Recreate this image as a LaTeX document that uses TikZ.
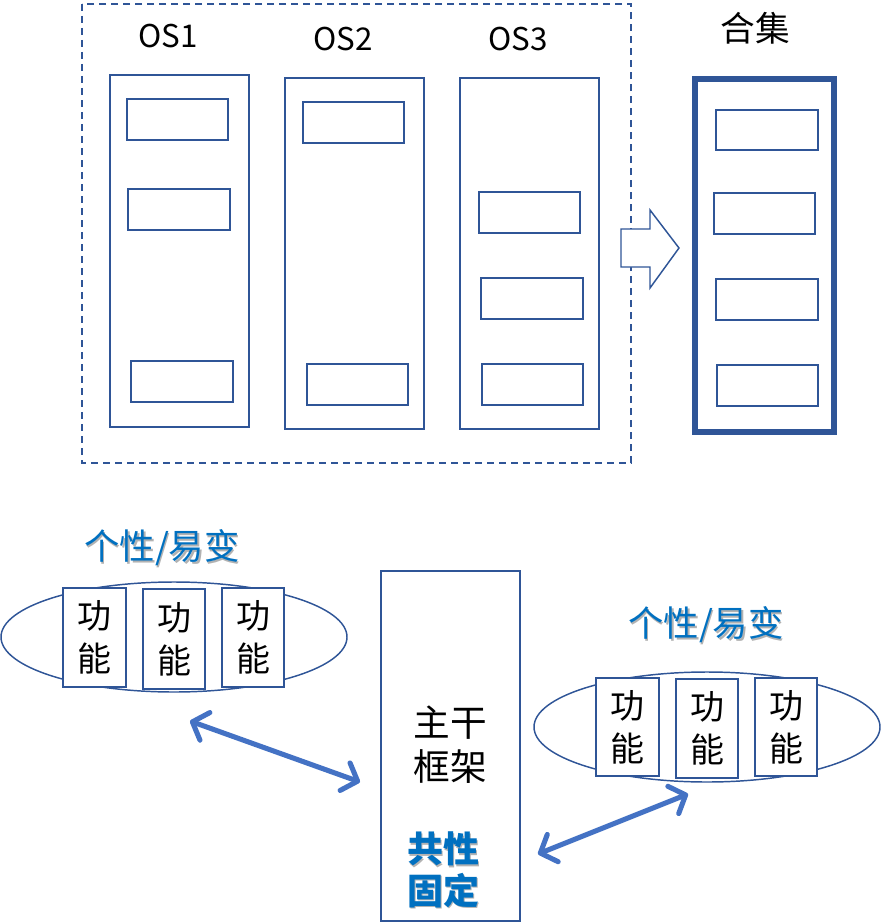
\documentclass[tikz,border=0pt]{standalone}
\usepackage{fontspec}
\setmainfont{Noto Sans CJK SC}
\usetikzlibrary{arrows.meta}
\definecolor{dkblue}{HTML}{2F5597}
\definecolor{arrblue}{HTML}{4472C4}
\definecolor{txtblue}{HTML}{0070C0}
\begin{document}
\begin{tikzpicture}[x=0.75pt,y=-0.75pt,
  box/.style={draw=dkblue,line width=1.1pt},
  lbl/.style={font=\fontsize{23.5}{27}\selectfont,inner sep=0pt},
  fn/.style={draw=dkblue,line width=1.1pt,fill=white,align=center,inner sep=0pt,font=\fontsize{25.5}{32}\selectfont},
  blu/.style={text=txtblue,inner sep=0pt,align=center},
  shd/.style={text=black!30,inner sep=0pt,align=center},
  dbl/.style={draw=arrblue,line width=3.8pt,line cap=round,
    {Straight Barb[length=10pt,width=22pt,line cap=round,line join=round]}-{Straight Barb[length=10pt,width=22pt,line cap=round,line join=round]}}]
\useasboundingbox (0,0) rectangle (881,924);
% top part
\draw[dkblue,line width=1.1pt,dash pattern=on 5.5pt off 3.5pt] (82,4) rectangle (631,463);
\node[lbl] (os1) at (168,36) {OS1};
\node[lbl] (os2) at (343,39) {OS2};
\node[lbl] (os3) at (518,39) {OS3};
\draw[box] (110,75) rectangle (249,427);
\draw[box] (127,99) rectangle (228,140);
\draw[box] (128,189) rectangle (230,230);
\draw[box] (131,361) rectangle (233,402);
\draw[box] (285,78) rectangle (424,429);
\draw[box] (303,102) rectangle (404,143);
\draw[box] (307,364) rectangle (408,405);
\draw[box] (460,78) rectangle (599,429);
\draw[box] (479,192) rectangle (580,233);
\draw[box] (481,278) rectangle (583,319);
\draw[box] (482,364) rectangle (583,405);
\draw[box,line join=miter,fill=white] (621,229) -- (650,229) -- (650,210) -- (679,248) -- (650,288) -- (650,267) -- (621,267) -- cycle;
\node[lbl,font=\fontsize{26}{30}\selectfont] (hj) at (755,28) {合集};
\draw[draw=dkblue,line width=3.8pt] (695,79) rectangle (834,432);
\draw[box] (716,110) rectangle (818,150);
\draw[box] (714,193) rectangle (815,234);
\draw[box] (716,279) rectangle (818,320);
\draw[box] (717,365) rectangle (818,406);
% bottom left
\node[shd,font=\fontsize{26.5}{30}\selectfont] at (163.5,549.5) {个性/易变};
\node[blu,font=\fontsize{26.5}{30}\selectfont] (g1) at (162,548) {个性/易变};
\draw[box] (174,637) ellipse [x radius=173,y radius=55];
\node[fn,minimum width=47.25pt,minimum height=74.25pt] (f1) at (94.5,637.5) {功\\能};
\node[fn,minimum width=46.5pt,minimum height=75pt] (f2) at (174,639) {功\\能};
\node[fn,minimum width=46.5pt,minimum height=74.25pt] (f3) at (253,637.5) {功\\能};
% main box
\node[draw=dkblue,line width=1.1pt,minimum width=104.25pt,minimum height=262.5pt,inner sep=0pt] (main) at (450.5,746) {};
\node[inner sep=0pt,align=center,font=\fontsize{27.5}{33}\selectfont] (zg) at (450,745) {主干\\框架};
\node[shd,font=\bfseries\fontsize{27}{31}\selectfont] at (444.5,871.5) {共性\\固定};
\node[blu,font=\bfseries\fontsize{27}{31}\selectfont] (gx) at (443,870) {共性\\固定};
% bottom right
\node[shd,font=\fontsize{26.5}{30}\selectfont] at (707.5,626.5) {个性/易变};
\node[blu,font=\fontsize{26.5}{30}\selectfont] (g2) at (706,625) {个性/易变};
\draw[box] (707,727) ellipse [x radius=173,y radius=55];
\node[fn,minimum width=47.25pt,minimum height=73.5pt] (f4) at (627.5,727) {功\\能};
\node[fn,minimum width=46.5pt,minimum height=74.25pt] (f5) at (707,728.5) {功\\能};
\node[fn,minimum width=46.5pt,minimum height=73.5pt] (f6) at (786,727) {功\\能};
% arrows
\coordinate (a1) at (190,721);
\coordinate (a2) at (360,782);
\coordinate (b1) at (538,854);
\coordinate (b2) at (688,794);
\draw[dbl] (a1) -- (a2);
\draw[dbl] (b1) -- (b2);
\end{tikzpicture}
\end{document}
